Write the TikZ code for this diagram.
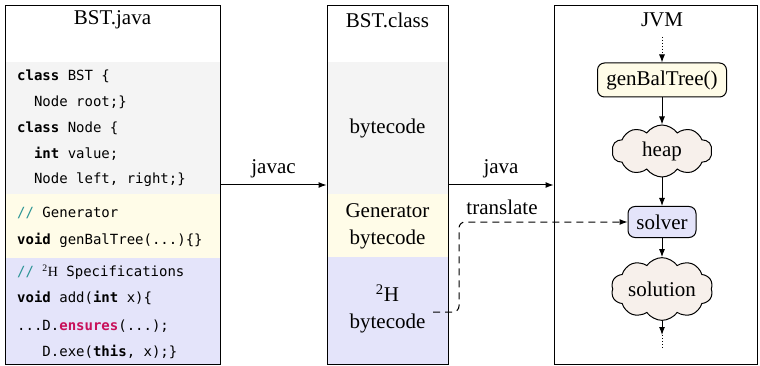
\documentclass[tikz,border=0pt]{standalone}
\usepackage{fontspec}
\setmainfont{Liberation Serif}
\setmonofont{DejaVu Sans Mono}
\usetikzlibrary{arrows.meta,shapes.symbols,positioning}

\definecolor{codegray}{HTML}{F4F4F4}
\definecolor{genyellow}{HTML}{FFFCE8}
\definecolor{specblue}{HTML}{E4E4FA}
\definecolor{cloudbeige}{HTML}{F7F0EB}
\definecolor{cmtteal}{HTML}{2A9494}
\definecolor{ensred}{HTML}{C8105A}

\newcommand{\kw}[1]{\textbf{#1}}
\newcommand{\cmt}{\textcolor{cmtteal}{//}}

\begin{document}
\begin{tikzpicture}[x=1pt,y=-1pt]
\def\boxtop{6}; %top edge of the three files
\def\boxbot{364}; %bottom edge
\def\headbot{62}; %end of the white title band
\def\genA{194}; %gray/yellow border
\def\genB{258}; %yellow/blue border
\def\colx{662}; %column of the JVM flow

\tikzstyle{filebox} = [rectangle, draw, line width=1pt, inner sep=0pt, minimum height=358pt]
\tikzstyle{lbl} = [inner sep=0pt, font=\fontsize{21}{27}\selectfont]
\tikzstyle{code} = [anchor=west, inner sep=0pt, font=\fontsize{14}{16}\ttfamily]
\tikzstyle{flow} = [line width=1pt, -{Latex[length=8pt,width=6pt]}]
\tikzstyle{rbox} = [rectangle, rounded corners=7pt, draw, line width=1pt, inner sep=0pt, font=\fontsize{21}{24}\selectfont]
\tikzstyle{puff} = [cloud, cloud puffs=10, cloud puff arc=110, aspect=2, draw, line width=1pt, fill=cloudbeige, inner sep=1pt, minimum width=100pt, minimum height=52pt, font=\fontsize{21}{24}\selectfont]

\useasboundingbox (0,0) rectangle (760,366);

% colour bands
\fill[codegray] (5,\headbot) rectangle (220,\genA);
\fill[genyellow] (5,\genA) rectangle (220,\genB);
\fill[specblue] (5,\genB) rectangle (220,\boxbot);
\fill[codegray] (327,\headbot) rectangle (448,\genA);
\fill[genyellow] (327,\genA) rectangle (448,257);
\fill[specblue] (327,257) rectangle (448,\boxbot);

% files
\node[filebox, minimum width=215pt] (srcfile) at (112.5,185) {};
\node[filebox, minimum width=121pt] (clsfile) at (387.5,185) {};
\node[filebox, minimum width=203pt] (jvm) at (655.5,185) {};

\node[lbl] (srctitle) at (112.5,20) {BST.java};
\node[lbl] (clstitle) at (387.5,20) {BST.class};
\node[lbl] (jvmtitle) at (\colx,20) {JVM};

% source code
\node[code] (c1) at (17,76) {\kw{class} BST \{};
\node[code] (c2) at (17,102) {\hphantom{xx}Node root;\}};
\node[code] (c3) at (17,128) {\kw{class} Node \{};
\node[code] (c4) at (17,154) {\hphantom{xx}\kw{int} value;};
\node[code] (c5) at (17,180) {\hphantom{xx}Node left, right;\}};
\node[code] (c6) at (17,213) {\cmt{} Generator};
\node[code] (c7) at (17,240) {\kw{void} genBalTree(...)\{\}};
\node[code] (c8) at (17,272) {\cmt{} {\rmfamily\textsuperscript{2}H} Specifications};
\node[code] (c9) at (17,298) {\kw{void} add(\kw{int} x)\{};
\node[code] (c10) at (17,326) {...D.\textcolor{ensred}{\kw{ensures}}(...);};
\node[code] (c11) at (17,352) {\hphantom{xxx}D.exe(\kw{this}, x);\}};

% bytecode
\node[lbl] (bc) at (387.5,128) {bytecode};
\node[lbl, align=center] (genbc) at (387.5,226) {Generator\\bytecode};
\node[lbl, align=center] (specbc) at (387.5,309) {\textsuperscript{2}H\\bytecode};

% JVM flow
\node[rbox, fill=genyellow, minimum width=129pt, minimum height=34pt] (gen) at (\colx,80) {genBalTree()};
\node[puff] (heap) at (\colx,151) {heap};
\node[rbox, fill=specblue, minimum width=68pt, minimum height=31pt] (solver) at (\colx,222) {solver};
\node[puff] (sol) at (\colx,289) {solution};

\coordinate (flowin) at (\colx,37);
\coordinate (flowmid) at (\colx,335);
\coordinate (flowout) at (\colx,350);
\coordinate (tstart) at (433,312);
\coordinate (tbend) at (459,222);

\draw[flow] (srcfile.east) -- (clsfile.west) node[lbl, midway, above=7pt] (javac) {javac};
\draw[flow] (clsfile.east) -- (jvm.west) node[lbl, midway, above=7pt] (java) {java};

\draw[flow, dotted] (flowin) -- (gen.north);
\draw[flow] (gen) -- (heap);
\draw[flow] (heap) -- (solver);
\draw[flow] (solver) -- (sol);
\draw[flow] (sol) -- (flowmid);
\draw[line width=1pt, dotted] (flowmid) -- (flowout);

\draw[flow, dash pattern=on 7pt off 5pt, rounded corners=6pt] (tstart) -| (tbend) -- (solver.west);
\node[lbl] (translbl) at (502,207) {translate};

\end{tikzpicture}
\end{document}
